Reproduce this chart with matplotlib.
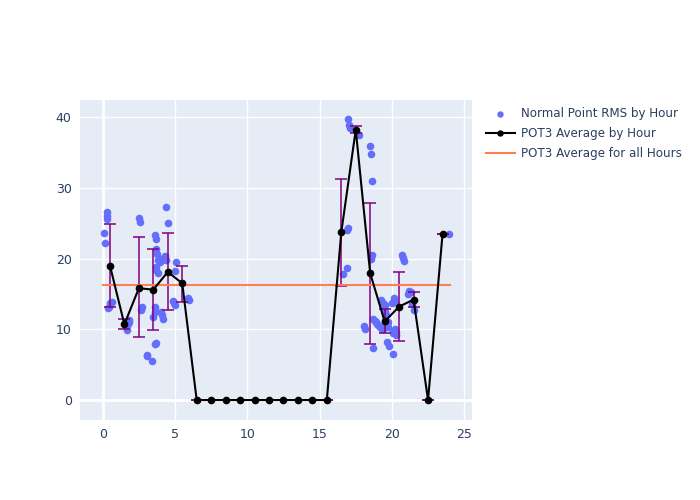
import matplotlib
matplotlib.use("Agg")
import matplotlib.pyplot as plt

# normal point RMS values (hour of day, rms)
rms_hour = [0.09, 0.14, 0.28, 0.32, 0.32, 0.37, 0.45, 0.5, 0.67,
            1.66, 1.7, 1.77, 1.82, 1.85,
            2.5, 2.58, 2.62, 2.73,
            3.03, 3.08, 3.43, 3.59, 3.66, 3.72, 3.77, 3.82, 3.93, 3.66, 3.72, 3.82,
            3.59, 3.59, 3.5, 3.59, 3.66,
            4.0, 4.0, 4.07, 4.14, 4.3, 4.4, 4.41, 4.5, 4.87, 4.97, 4.92,
            5.1, 5.03, 5.88, 5.95,
            16.6, 16.92, 16.92, 16.94, 16.94,
            17.03, 17.1, 17.75,
            18.48, 18.55, 18.6, 18.6, 18.55, 18.67, 18.07, 18.14, 18.7, 18.8, 18.9, 19.0,
            19.1, 19.2, 19.3, 19.4, 19.24, 19.4, 19.5, 19.55, 19.6, 19.5, 19.65, 19.7,
            19.6, 19.68, 19.8, 19.45, 19.75,
            20.05, 19.98, 20.14, 20.2, 20.1, 20.2, 20.25, 20.3, 20.05, 20.7, 20.78, 20.83,
            21.2, 21.3, 21.1, 21.4, 21.5,
            23.95]
rms_val = [23.6, 22.2, 26.0, 26.6, 25.6, 13.0, 13.2, 13.7, 13.8,
           9.9, 10.8, 10.7, 11.3, 11.0,
           25.7, 25.1, 12.7, 13.1,
           6.4, 6.2, 5.5, 23.3, 22.7, 21.3, 20.6, 19.8, 19.5, 18.8, 18.4, 17.9,
           13.2, 12.5, 11.7, 7.9, 8.1,
           19.9, 12.5, 12.0, 11.5, 20.3, 19.8, 27.3, 25.0, 14.0, 13.5, 13.75,
           19.5, 18.2, 14.4, 14.1,
           17.8, 18.7, 24.0, 24.3, 39.7,
           38.9, 38.4, 37.5,
           35.9, 34.7, 31.0, 20.5, 20.0, 7.3, 10.4, 10.0, 11.5, 11.2, 11.0, 10.8,
           10.5, 10.3, 10.1, 10.0, 14.1, 13.7, 13.4, 12.5, 12.0, 11.2, 10.5, 10.3,
           10.8, 8.2, 7.6, 12.8, 11.0,
           6.5, 13.7, 14.4, 13.9, 9.5, 10.0, 9.2, 9.6, 9.8, 20.5, 20.1, 19.6,
           15.4, 15.2, 15.0, 13.6, 12.7,
           23.4]

# hourly POT3 averages with error range
avg_hour = [0.5, 1.5, 2.5, 3.5, 4.5, 5.5, 6.5, 7.5, 8.5, 9.5, 10.5, 11.5,
            12.5, 13.5, 14.5, 15.5, 16.5, 17.5, 18.5, 19.5, 20.5, 21.5, 22.5, 23.5]
avg_val = [19.0, 10.7, 15.8, 15.6, 18.1, 16.5, 0, 0, 0, 0, 0, 0,
           0, 0, 0, 0, 23.7, 38.2, 17.9, 11.1, 13.2, 14.2, 0, 23.4]
err_low = [13.2, 10.0, 8.9, 9.9, 12.7, 13.9, 0, 0, 0, 0, 0, 0,
           0, 0, 0, 0, 16.1, 37.7, 7.9, 9.5, 8.3, 13.1, 0, 23.4]
err_high = [24.9, 11.4, 23.0, 21.4, 23.6, 18.9, 0, 0, 0, 0, 0, 0,
            0, 0, 0, 0, 31.2, 38.7, 27.8, 12.9, 18.1, 15.3, 0, 23.4]

overall_avg = 16.25
overall_span = [0, 24]

fig = plt.figure(figsize=(7, 5), dpi=100)
ax = fig.add_axes([80 / 700, 80 / 500, 392 / 700, 320 / 500])
ax.set_facecolor("#E5ECF6")

yerr = [[v - lo for v, lo in zip(avg_val, err_low)],
        [hi - v for v, hi in zip(avg_val, err_high)]]

ax.scatter(rms_hour, rms_val, s=20, color="#636EFA", zorder=3,
           label="Normal Point RMS by Hour")
ax.errorbar(avg_hour, avg_val, yerr=yerr, fmt="none", ecolor="purple",
            elinewidth=1.1, capsize=4, capthick=1.1, zorder=4)
ax.plot(avg_hour, avg_val, color="black", lw=1.5, marker="o", ms=4.5,
        zorder=5, label="POT3 Average by Hour")
ax.plot(overall_span, [overall_avg, overall_avg], color="#FF7F50", lw=1.5,
        zorder=4, label="POT3 Average for all Hours")

ax.set_xlim(-1.57, 25.54)
ax.set_ylim(-2.82, 42.4)
ax.set_xticks([0, 5, 10, 15, 20, 25])
ax.set_yticks([0, 10, 20, 30, 40])
ax.grid(color="white", lw=1)
ax.axhline(0, color="white", lw=2, zorder=1)
ax.axvline(0, color="white", lw=2, zorder=1)
ax.set_axisbelow(True)
for s in ax.spines.values():
    s.set_visible(False)
ax.tick_params(length=0, colors="#2A3F5F", labelsize=9, pad=6)

ax.legend(loc="upper left", bbox_to_anchor=(486 / 700, 1 - 107 / 500),
          bbox_transform=fig.transFigure, frameon=False, fontsize=8.6,
          labelcolor="#2A3F5F", handlelength=2.4, handletextpad=0.5,
          borderpad=0, borderaxespad=0, labelspacing=0.6, markerscale=0.8)

fig.savefig("out.png")
